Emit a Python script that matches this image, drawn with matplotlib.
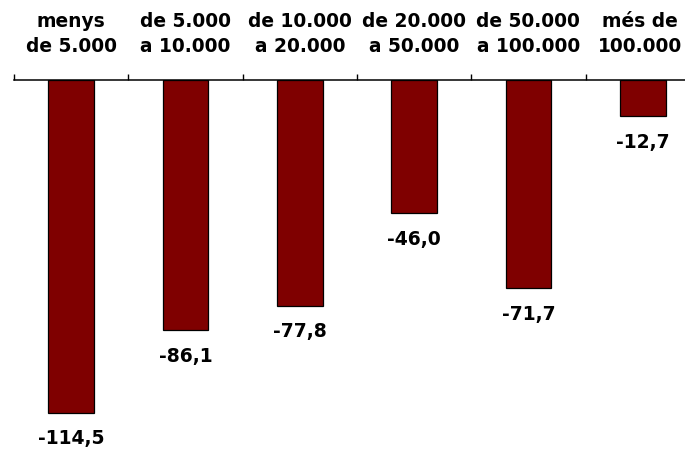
import matplotlib.pyplot as plt
import numpy as np

# categories and values
categories = ['menys\nde 5.000', 'de 5.000\na 10.000', 'de 10.000\na 20.000',
              'de 20.000\na 50.000', 'de 50.000\na 100.000', 'més de\n100.000']
values = [-114.5, -86.1, -77.8, -46.0, -71.7, -12.7]
value_labels = ['-114,5', '-86,1', '-77,8', '-46,0', '-71,7', '-12,7']

plt.rcParams['font.family'] = 'DejaVu Sans'

fig = plt.figure(figsize=(6.85, 4.49), dpi=100)
ax = fig.add_axes([0.02044, 0.0131, 1.0012, 0.8098])

x = np.arange(len(categories))
bars = ax.bar(x, values, width=0.4, color='#7f0000', edgecolor='black', linewidth=0.9)

# value labels under each bar
for xi, v, lab in zip(x, values, value_labels):
    ax.annotate(lab, (xi, v), xytext=(0, -12), textcoords='offset points',
                ha='center', va='top', fontsize=13.5, fontweight='bold')

# category labels above the axis (last one nudged to stay inside the figure)
for xi, cat in zip(x, categories):
    dx = -2 if xi == len(categories) - 1 else 0
    ax.annotate(cat, (xi, 0), xytext=(dx, 17), textcoords='offset points',
                ha='center', va='bottom', multialignment='center',
                fontsize=13.4, fontweight='bold', linespacing=1.42,
                annotation_clip=False)

ax.set_xlim(-0.5, len(categories) - 0.5)
ax.set_ylim(-125, 0)

# axis on top with ticks at category boundaries
ax.xaxis.tick_top()
ax.set_xticks(np.arange(-0.5, len(categories), 1.0))
ax.set_xticklabels([])
ax.tick_params(axis='x', direction='out', length=4.5, width=1, color='black')
ax.set_yticks([])

for side in ['bottom', 'left', 'right']:
    ax.spines[side].set_visible(False)
ax.spines['top'].set_linewidth(1.1)

fig.savefig('out.png', dpi=100)
